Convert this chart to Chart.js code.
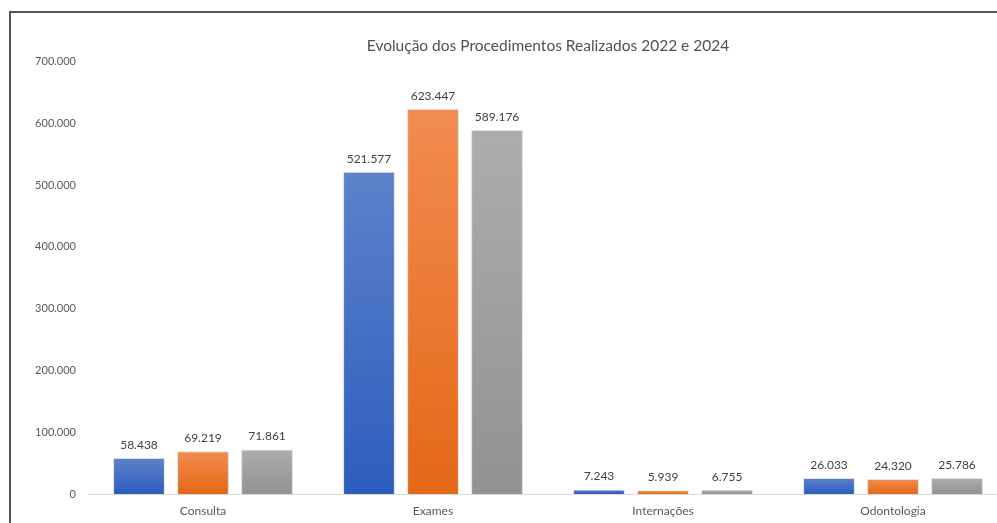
<!DOCTYPE html>
<html>
<head>
<meta charset="utf-8">
<script src="https://cdn.jsdelivr.net/npm/chart.js@4.4.1/dist/chart.umd.min.js"></script>
<style>
    html, body { margin: 0; padding: 0; background: #fff; overflow: hidden; }
    #moldura {
        position: absolute;
        left: 9px;
        top: 11px;
        width: 1100px;
        height: 540px;
        border-left: 2px solid #555;
        border-top: 2px solid #555;
    }
    #grafico_proc { display: block; }
</style>
</head>
<body>
<div id="moldura">
    <canvas id="grafico_proc" width="1090" height="530"></canvas>
</div>
<script>
    const categorias = ['Consulta', 'Exames', 'Internações', 'Odontologia'];
    const valores_a = [58438, 521577, 7243, 26033];
    const valores_b = [69219, 623447, 5939, 24320];
    const valores_c = [71861, 589176, 6755, 25786];
    const ticks_y = [0, 100000, 200000, 300000, 400000, 500000, 600000, 700000];

    // cores do topo e da base de cada barra (degradê)
    const cores = [
        ['#5d82cb', '#2d5dbd'],
        ['#f28c50', '#e46817'],
        ['#adadad', '#929292']
    ];

    function milhar(v) {
        return String(v).replace(/\B(?=(\d{3})+(?!\d))/g, '.');
    }

    function degrade(i) {
        return function (context) {
            const chart = context.chart;
            const area = chart.chartArea;
            if (!area || context.parsed === undefined) return cores[i][1];
            const escala = chart.scales.y;
            const topo = escala.getPixelForValue(context.parsed.y);
            const base = escala.getPixelForValue(0);
            if (base - topo < 1) return cores[i][1];
            const g = chart.ctx.createLinearGradient(0, topo, 0, base);
            g.addColorStop(0, cores[i][0]);
            g.addColorStop(1, cores[i][1]);
            return g;
        };
    }

    // escreve o valor acima de cada barra
    const rotulos = {
        id: 'rotulos',
        afterDatasetsDraw(chart) {
            const ctx = chart.ctx;
            ctx.save();
            ctx.font = '12px Lato, "Open Sans", sans-serif';
            ctx.fillStyle = '#404040';
            ctx.textAlign = 'center';
            ctx.textBaseline = 'bottom';
            chart.data.datasets.forEach(function (ds, i) {
                chart.getDatasetMeta(i).data.forEach(function (barra, j) {
                    ctx.fillText(milhar(ds.data[j]), barra.x, barra.y - 7);
                });
            });
            ctx.restore();
        }
    };

    const conjuntos = [valores_a, valores_b, valores_c].map(function (dados, i) {
        return {
            label: ['A', 'B', 'C'][i],
            data: dados,
            backgroundColor: degrade(i),
            borderColor: 'rgba(0,0,0,0.12)',
            borderWidth: 1,
            categoryPercentage: 0.835,
            barPercentage: 0.81
        };
    });

    new Chart(document.getElementById('grafico_proc').getContext('2d'), {
        type: 'bar',
        data: {
            labels: categorias,
            datasets: conjuntos
        },
        options: {
            responsive: false,
            animation: false,
            layout: {
                padding: { left: 0, right: 93, top: 0, bottom: 0 }
            },
            plugins: {
                legend: { display: false },
                tooltip: { enabled: false },
                title: {
                    display: true,
                    fullSize: false,
                    text: 'Evolução dos Procedimentos Realizados 2022 e 2024',
                    color: '#505050',
                    font: { family: 'Lato, "Open Sans", sans-serif', size: 15.5, weight: 'normal' },
                    padding: { top: 24, bottom: 6 }
                }
            },
            scales: {
                x: {
                    grid: { display: false, drawTicks: false },
                    border: { display: true, color: '#d9d9d9', width: 1 },
                    ticks: {
                        color: '#595959',
                        font: { family: 'Lato, "Open Sans", sans-serif', size: 12 },
                        padding: 10
                    },
                    afterFit: function (scale) { scale.height = 49; }
                },
                y: {
                    min: 0,
                    max: ticks_y[ticks_y.length - 1],
                    grid: { display: false, drawTicks: false },
                    border: { display: false },
                    afterBuildTicks: function (scale) {
                        scale.ticks = ticks_y.map(function (v) { return { value: v }; });
                    },
                    ticks: {
                        color: '#595959',
                        font: { family: 'Lato, "Open Sans", sans-serif', size: 11 },
                        padding: 12,
                        callback: function (v) { return milhar(v); }
                    },
                    afterFit: function (scale) { scale.width = 77; }
                }
            }
        },
        plugins: [rotulos]
    });
</script>
</body>
</html>
